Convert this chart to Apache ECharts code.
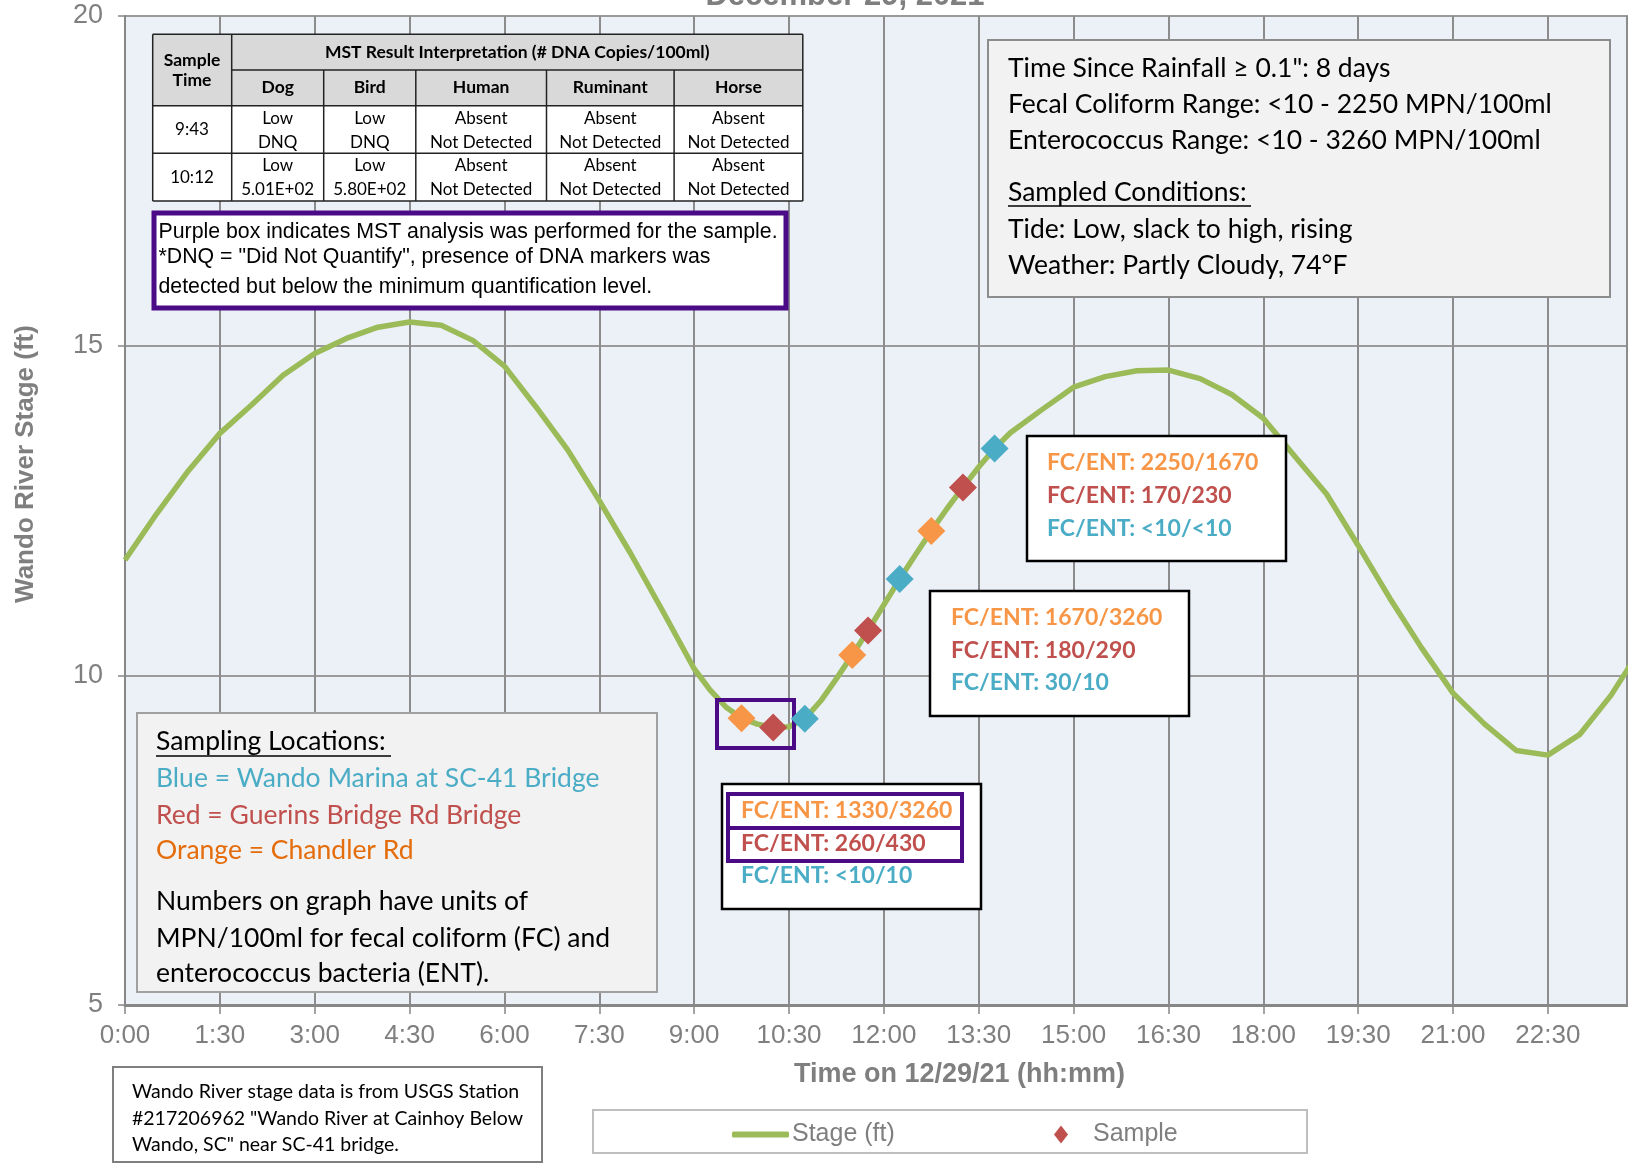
<!DOCTYPE html>
<html><head><meta charset="utf-8">
<script src="https://cdn.jsdelivr.net/npm/echarts@6/dist/echarts.min.js"></script>
<style>html,body{margin:0;padding:0;background:#fff}#c{width:1628px;height:1173px}</style>
</head><body><div id="c"></div>
<script>
// ---------- DATA ----------
const stageMinutes = [0,30,60,90,120,150,180,210,240,270,300,330,360,390,420,450,480,510,540,
  555,570,585,600,615,630,645,660,675,690,705,720,735,750,765,780,795,810,825,840,
  870,900,930,960,990,1020,1050,1080,1110,1140,1170,1200,1230,1260,1290,1320,1350,1380,1410,1440];
const stageFeet = [11.75,12.45,13.10,13.67,14.10,14.55,14.88,15.11,15.28,15.36,15.31,15.08,14.69,14.07,13.42,12.65,11.84,10.98,10.10,
  9.78,9.52,9.35,9.26,9.21,9.22,9.34,9.61,9.95,10.31,10.68,11.07,11.46,11.83,12.19,12.53,12.85,13.16,13.44,13.68,
  14.03,14.37,14.53,14.62,14.63,14.50,14.26,13.90,13.32,12.75,11.97,11.17,10.42,9.73,9.26,8.86,8.79,9.10,9.70,10.45];
const sampleMinutes = [585,615,645,690,705,735,765,795,825];
const sampleFeet = [9.35,9.21,9.34,10.31,10.68,11.46,12.19,12.85,13.44];
const sampleSite = ['Chandler','Guerins','Wando','Chandler','Guerins','Wando','Chandler','Guerins','Wando'];
const yTicks = [5,10,15,20];
const annoGroup1 = ['FC/ENT: 2250/1670','FC/ENT: 170/230','FC/ENT: <10/<10'];
const annoGroup2 = ['FC/ENT: 1670/3260','FC/ENT: 180/290','FC/ENT: 30/10'];
const annoGroup3 = ['FC/ENT: 1330/3260','FC/ENT: 260/430','FC/ENT: <10/10'];
const tableHead = 'MST Result Interpretation (# DNA Copies/100ml)';
const tableCols = ['Dog','Bird','Human','Ruminant','Horse'];
const tableTimes = ['9:43','10:12'];
const tableRow1 = [['Low','DNQ'],['Low','DNQ'],['Absent','Not Detected'],['Absent','Not Detected'],['Absent','Not Detected']];
const tableRow2 = [['Low','5.01E+02'],['Low','5.80E+02'],['Absent','Not Detected'],['Absent','Not Detected'],['Absent','Not Detected']];
const noteLines = ['Purple box indicates MST analysis was performed for the sample.','*DNQ = "Did Not Quantify", presence of DNA markers was','detected but below the minimum quantification level.'];
const infoLines = ['Time Since Rainfall \u2265 0.1": 8 days','Fecal Coliform Range: <10 - 2250 MPN/100ml','Enterococcus Range: <10 - 3260 MPN/100ml','Sampled Conditions:','Tide: Low, slack to high, rising','Weather: Partly Cloudy, 74\u00b0F'];
const locLines = ['Sampling Locations:','Blue = Wando Marina at SC-41 Bridge','Red = Guerins Bridge Rd Bridge','Orange = Chandler Rd','Numbers on graph have units of','MPN/100ml for fecal coliform (FC) and','enterococcus bacteria (ENT).'];
const sourceLines = ['Wando River stage data is from USGS Station','#217206962 "Wando River at Cainhoy Below','Wando, SC" near SC-41 bridge.'];

// ---------- STYLE ----------
const C_OR='#F79646', C_RD='#C0504D', C_BL='#4BACC6', C_GR='#9BBB59', C_PU='#4B0B86';
const siteColor = {Chandler:C_OR, Guerins:C_RD, Wando:C_BL};
const SANS = "'Liberation Sans',Arial,sans-serif";
const CAL = "Lato, 'Open Sans', sans-serif";
const GRAY = '#7f7f7f';

const G = [];
function rect(x,y,w,h,fill,stroke,lw,z){G.push({type:'rect',silent:true,z:z||100,shape:{x:x,y:y,width:w,height:h},style:{fill:fill||'none',stroke:stroke||'none',lineWidth:lw||0}});}
function txt(s,x,y,font,fill,align,z){G.push({type:'text',silent:true,z:z||102,x:x,y:y,style:{text:s,font:font,fill:fill,align:align||'left',verticalAlign:'middle'}});}
function ln(x1,y1,x2,y2,stroke,lw,z){G.push({type:'line',silent:true,z:z||101,shape:{x1:x1,y1:y1,x2:x2,y2:y2},style:{stroke:stroke,lineWidth:lw}});}

// title (cut off at top)
txt('December 29, 2021',845,-4,"bold 31px "+SANS,GRAY,'center');
// right edge line
ln(1627,16,1627,1005,'#8c8c8c',2,1);

// table
const cx=[152.7,231.7,323.7,415.8,546.5,674.1,802.8], ry=[34.3,70,105.7,153.3,201];
rect(cx[0],ry[0],cx[6]-cx[0],ry[2]-ry[0],'#D9D9D9','none',0,100);
rect(cx[0],ry[2],cx[6]-cx[0],ry[4]-ry[2],'#ffffff','none',0,100);
ln(cx[0],ry[0],cx[6],ry[0],'#222',1.5); ln(cx[1],ry[1],cx[6],ry[1],'#222',1.5);
ln(cx[0],ry[2],cx[6],ry[2],'#222',1.5); ln(cx[0],ry[3],cx[6],ry[3],'#222',1.5); ln(cx[0],ry[4],cx[6],ry[4],'#222',1.5);
ln(cx[0],ry[0],cx[0],ry[4],'#222',1.5); ln(cx[1],ry[0],cx[1],ry[4],'#222',1.5); ln(cx[6],ry[0],cx[6],ry[4],'#222',1.5);
for(let i=2;i<6;i++) ln(cx[i],ry[1],cx[i],ry[4],'#222',1.5);
const TB="bold 17.5px "+CAL, TR="17px "+CAL;
txt('Sample',192,60.7,TB,'#000','center'); txt('Time',192,80,TB,'#000','center');
txt(tableHead,(cx[1]+cx[6])/2,52,TB,'#000','center');
tableCols.forEach((c,i)=>txt(c,(cx[i+1]+cx[i+2])/2,87.7,TB,'#000','center'));
txt(tableTimes[0],192,129.3,TR,'#000','center'); txt(tableTimes[1],192,177.3,TR,'#000','center');
tableRow1.forEach((c,i)=>{txt(c[0],(cx[i+1]+cx[i+2])/2,118.3,TR,'#000','center');txt(c[1],(cx[i+1]+cx[i+2])/2,142.3,TR,'#000','center');});
tableRow2.forEach((c,i)=>{txt(c[0],(cx[i+1]+cx[i+2])/2,166,TR,'#000','center');txt(c[1],(cx[i+1]+cx[i+2])/2,190,TR,'#000','center');});

// purple note box
rect(154,213,632,95,'#ffffff',C_PU,5,100);
[231.7,256.7,286.7].forEach((y,i)=>txt(noteLines[i],158.5,y,"21.3px "+SANS,'#000'));

// info box (right)
rect(988,40,622,257,'#F2F2F2','#8c8c8c',2,100);
const F25="26.5px "+CAL;
[68.3,104,140,192.7,229.3,265].forEach((y,i)=>txt(infoLines[i],1008,y,F25,'#000'));
ln(1008,206,1251,206,'#000',1.5,103);

// sampling locations box
rect(137,713,520,279,'#F2F2F2','#a0a0a0',2,100);
const locColors=['#000',C_BL,C_RD,'#E46C0A','#000','#000','#000'];
[741.7,778.3,815,850,901.7,938.3,973.3].forEach((y,i)=>txt(locLines[i],156,y,F25,locColors[i]));
ln(156,756,391,756,'#000',1.5,103);

// annotation boxes
const AB="bold 23px "+CAL, annoCol=[C_OR,C_RD,C_BL];
function anno(bx,by,lines,tx,ys){rect(bx,by,259,125,'#ffffff','#000',2.5,100);lines.forEach((s,i)=>txt(s,tx,ys[i],AB,annoCol[i]));}
anno(1027,436,annoGroup1,1047,[462.6,495.4,528.8]);
anno(930,591,annoGroup2,951,[617.6,650.4,683]);
anno(722,784,annoGroup3,741,[810.5,843.2,876]);
rect(728,794,234,34,'none',C_PU,4,103);
rect(728,828,234,33,'none',C_PU,4,103);
// purple box around MST samples
rect(717,700,77,48,'none',C_PU,4,3);

// source box
rect(113,1067,429,95,'#ffffff','#7f7f7f',2,100);
[1091.7,1118.3,1144.3].forEach((y,i)=>txt(sourceLines[i],132,y,"19.5px "+CAL,'#000'));
// legend box
rect(593,1110,714,43,'#ffffff','#BFBFBF',2,1);

// ---------- CHART ----------
const chart = echarts.init(document.getElementById('c'),null,{renderer:'canvas'});
const pad=n=>(n<10?'0':'')+n;
chart.setOption({
  animation:false,
  backgroundColor:'#ffffff',
  grid:{left:125,top:16,right:0,bottom:168,show:true,backgroundColor:'#ECF1F8',borderWidth:0},
  xAxis:{type:'value',min:0,max:1426,interval:90,
    axisLine:{show:true,lineStyle:{color:'#878787',width:3}},
    axisTick:{show:true,length:9,lineStyle:{color:'#878787',width:1.5}},
    axisLabel:{show:true,showMaxLabel:false,margin:18,color:GRAY,fontSize:26,fontFamily:SANS,
      formatter:v=>Math.floor(v/60)+':'+pad(v%60)},
    splitLine:{show:true,lineStyle:{color:'#8c8c8c',width:2}},
    name:'Time on 12/29/21 (hh:mm)',nameLocation:'middle',nameGap:56,
    nameTextStyle:{color:GRAY,fontSize:27,fontWeight:'bold',fontFamily:SANS,padding:[0,0,0,166]}},
  yAxis:{type:'value',min:yTicks[0],max:yTicks[yTicks.length-1],interval:5,
    axisLine:{show:true,lineStyle:{color:'#878787',width:2}},
    axisTick:{show:true,length:7,lineStyle:{color:'#878787',width:1.5}},
    axisLabel:{margin:22,color:GRAY,fontSize:27,fontFamily:SANS},
    splitLine:{show:true,lineStyle:{color:'#9a9a9a',width:2}},
    name:'Wando River Stage (ft)',nameLocation:'middle',nameRotate:90,nameGap:86,
    nameTextStyle:{color:GRAY,fontSize:26,fontWeight:'bold',fontFamily:SANS,padding:[0,0,0,93]}},
  legend:[
    {data:[{name:'Stage (ft)',icon:'roundRect'}],left:727,top:1117,itemWidth:57,itemHeight:6,selectedMode:false,
      textStyle:{color:GRAY,fontSize:25,fontFamily:SANS,padding:[0,0,0,-2]}},
    {data:[{name:'Sample',icon:'diamond'}],left:1049,top:1117,itemWidth:14,itemHeight:18,selectedMode:false,
      textStyle:{color:GRAY,fontSize:25,fontFamily:SANS,padding:[0,0,0,20]}}
  ],
  series:[
    {name:'Stage (ft)',type:'line',data:stageMinutes.map((m,i)=>[m,stageFeet[i]]),showSymbol:false,clip:true,
      lineStyle:{color:C_GR,width:5.5},itemStyle:{color:C_GR},z:2,silent:true},
    {name:'Sample',type:'scatter',symbol:'diamond',symbolSize:28,z:5,itemStyle:{color:C_RD,opacity:1},
      data:sampleMinutes.map((m,i)=>({value:[m,sampleFeet[i]],itemStyle:{color:siteColor[sampleSite[i]],opacity:1}}))}
  ],
  graphic:G
});
</script></body></html>
